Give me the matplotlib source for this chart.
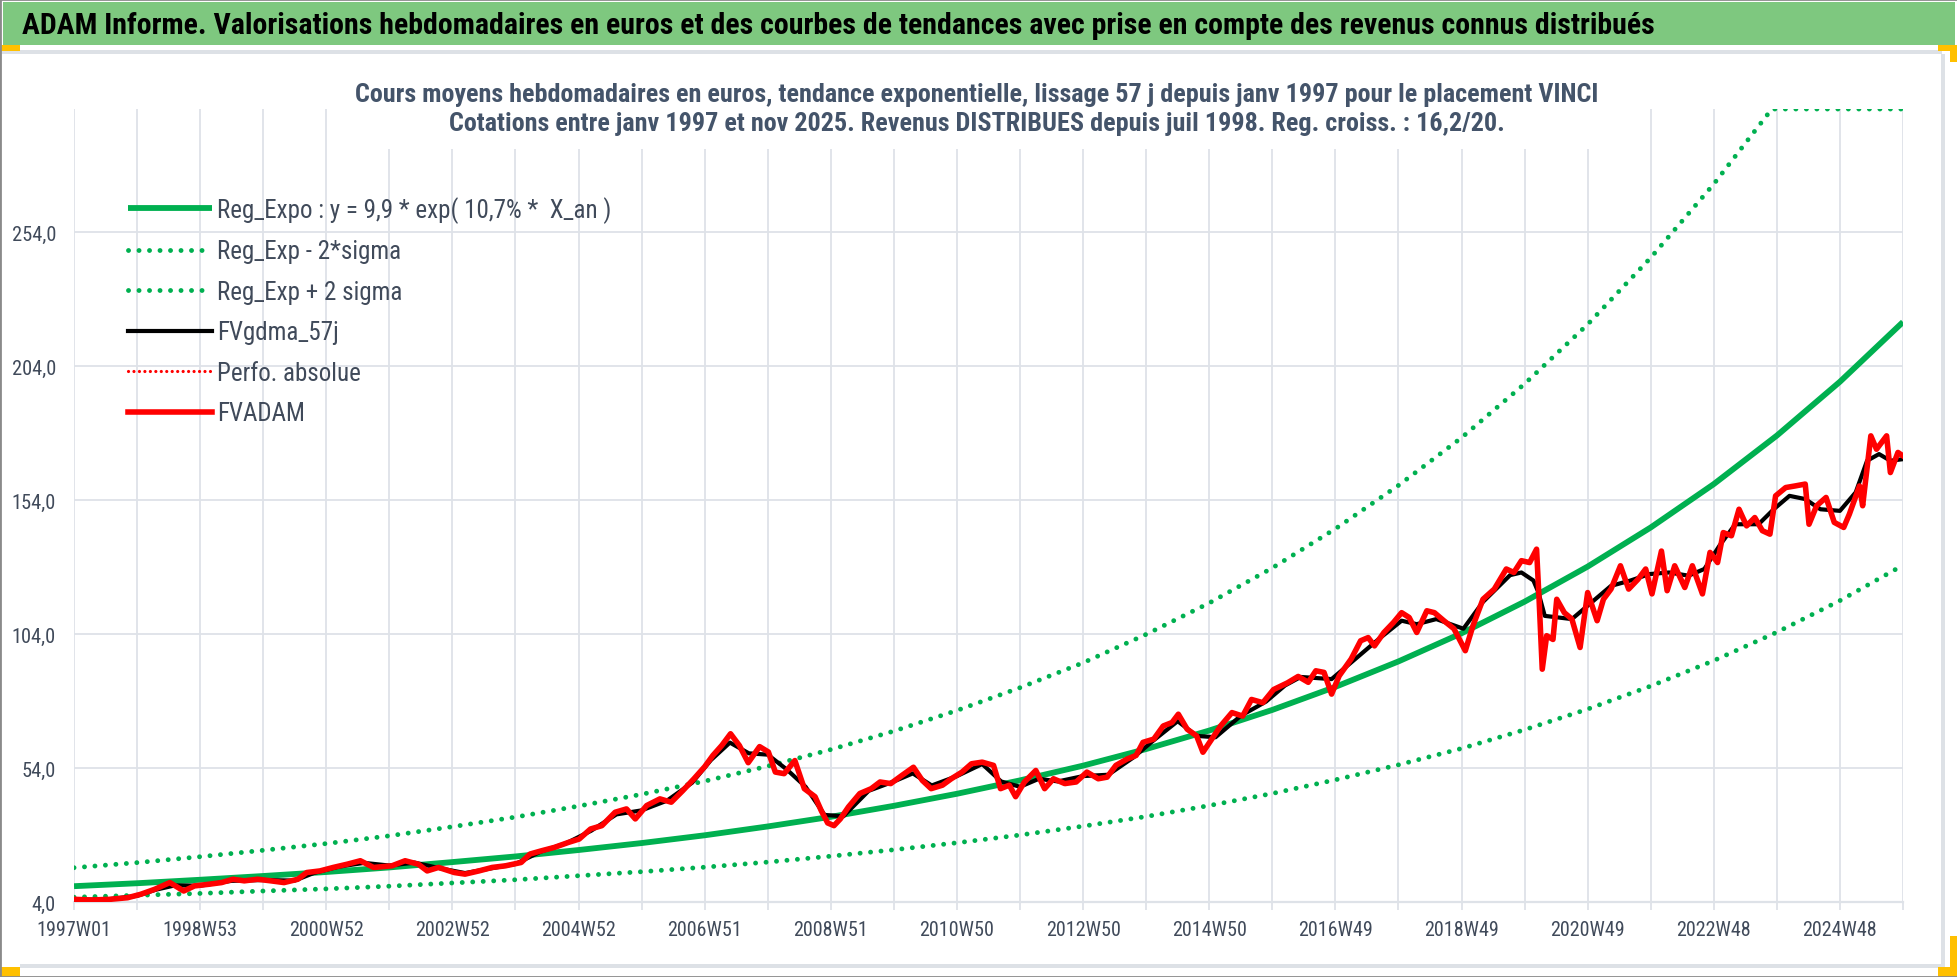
import numpy as np
import pandas as pd
import matplotlib
matplotlib.use("Agg")
import matplotlib.pyplot as plt
from matplotlib.patches import Rectangle

W, H = 1958, 978
FONT = ['Roboto Condensed', 'Liberation Sans', 'DejaVu Sans']
plt.rcParams['font.family'] = FONT

# ---------------- data ----------------
N_WEEKS = 1509
categories = [f"{d.isocalendar()[0]}W{d.isocalendar()[1]:02d}"
              for d in pd.date_range('1997-01-03', periods=N_WEEKS, freq='7D')]
tick_labels = ['1997W01', '1998W53', '2000W52', '2002W52', '2004W52', '2006W51',
               '2008W51', '2010W50', '2012W50', '2014W50', '2016W49', '2018W49',
               '2020W49', '2022W48', '2024W48']
y_ticks = [4, 54, 104, 154, 204, 254]

# positions in units of 52 weeks since 1997W01
trend_t = list(range(30))
trend_v = [9.9, 11.0, 12.3, 13.7, 15.2, 16.9, 18.9, 21.0, 23.4, 26.0, 28.9, 32.2, 35.8,
           39.9, 44.4, 49.4, 54.9, 61.1, 68.0, 75.7, 84.3, 93.8, 104.3, 116.1, 129.2,
           143.8, 160.0, 178.1, 198.2, 220.5]
lower_v = [5.8, 6.5, 7.2, 8.1, 8.9, 9.9, 11.1, 12.3, 13.8, 15.3, 17.0, 18.9, 21.1, 23.5,
           26.1, 29.0, 32.3, 35.9, 40.0, 44.5, 49.6, 55.2, 61.3, 68.3, 76.0, 84.6, 94.1,
           104.7, 116.5, 129.7]
upper_t = list(range(27)) + [26.92, 28, 29]
upper_v = [16.8, 18.7, 20.9, 23.3, 25.8, 28.7, 32.1, 35.7, 39.8, 44.2, 49.1, 54.7, 60.9,
           67.8, 75.5, 84.0, 93.3, 103.9, 115.6, 128.7, 143.3, 159.5, 177.3, 197.4, 219.6,
           244.5, 272.0, 300.0, 300.0, 300.0]

fv_t = [0.00, 0.28, 0.57, 0.85, 1.06, 1.28, 1.52, 1.74, 1.91, 2.13, 2.34, 2.52, 2.70, 2.91,
        3.12, 3.33, 3.55, 3.69, 3.90, 4.11, 4.33, 4.54, 4.75, 5.04, 5.25, 5.46, 5.60, 5.78,
        6.03, 6.20, 6.42, 6.63, 6.84, 7.09, 7.23, 7.41, 7.62, 7.84, 8.01, 8.19, 8.37, 8.58,
        8.76, 8.90, 9.08, 9.29, 9.47, 9.65, 9.83, 10.00, 10.13, 10.27, 10.41, 10.55, 10.69,
        10.87, 11.01, 11.12, 11.26, 11.43, 11.58, 11.75, 11.85, 11.95, 12.05, 12.15, 12.28,
        12.46, 12.64, 12.78, 12.95, 13.13, 13.31, 13.45, 13.59, 13.77, 13.91, 14.08, 14.23,
        14.40, 14.58, 14.69, 14.83, 14.93, 15.07, 15.25, 15.39, 15.53, 15.71, 15.89, 16.06,
        16.24, 16.38, 16.52, 16.70, 16.84, 16.95, 17.12, 17.27, 17.41, 17.51, 17.65, 17.80,
        17.90, 18.04, 18.18, 18.36, 18.53, 18.67, 18.85, 19.02, 19.24, 19.41, 19.57, 19.69,
        19.82, 19.94, 20.06, 20.25, 20.40, 20.52, 20.62, 20.77, 20.92, 21.05, 21.17, 21.29,
        21.45, 21.57, 21.72, 21.88, 22.06, 22.18, 22.34, 22.52, 22.71, 22.83, 22.95, 23.08,
        23.19, 23.23, 23.28, 23.35, 23.45, 23.51, 23.63, 23.75, 23.88, 24.00, 24.15, 24.25,
        24.37, 24.52, 24.65, 24.80, 24.92, 25.02, 25.17, 25.26, 25.38, 25.54, 25.66, 25.82,
        25.94, 26.06, 26.15, 26.28, 26.40, 26.52, 26.65, 26.77, 26.89, 26.98, 27.14, 27.29,
        27.45, 27.51, 27.63, 27.78, 27.91, 28.06, 28.15, 28.31, 28.36, 28.49, 28.58, 28.74,
        28.80, 28.92, 29.00]
fv_v = [5.0, 4.75, 5.0, 5.6, 6.9, 8.75, 11.25, 8.1, 10.0, 10.6, 11.25, 12.5, 11.9, 12.5,
        11.9, 11.25, 12.5, 15.0, 15.6, 16.9, 18.1, 19.4, 16.9, 17.5, 19.4, 18.1, 15.6, 16.9,
        15.0, 14.4, 15.6, 16.9, 17.5, 18.75, 21.9, 23.1, 24.4, 26.25, 27.5, 31.25, 32.5, 37.5,
        38.75, 35.0, 40.0, 42.5, 41.25, 45.5, 50.0, 54.5, 58.7, 62.4, 66.8, 62.4, 56.0,
        62.0, 60.0, 52.5, 51.9, 56.8, 46.3, 43.3, 38.0, 33.5, 32.5, 35.0, 39.5,
        44.5, 46.3, 48.8, 48.2, 51.3, 54.3, 49.4, 46.3, 47.6, 50.0, 52.5, 55.6,
        56.2, 55.0, 46.3, 47.6, 43.3, 48.8, 53.1, 46.3, 50.0, 48.2, 48.8, 52.5,
        50.0, 50.6, 55.0, 57.4, 58.7, 63.6, 64.8, 69.7, 71.0, 74.1, 68.5, 66.0,
        59.9, 64.8, 69.7, 74.7, 73.4, 79.6, 78.4, 83.3, 85.8, 88.2, 86.0, 90.3,
        89.7, 81.6, 88.4, 94.7, 101.5, 102.7, 99.6, 104.6, 108.3, 112.0, 110.2, 104.6,
        112.7, 112.0, 109.0, 106.0, 97.8, 107.0, 117.0, 120.8, 128.3, 127.0, 131.4, 130.7,
        135.7, 117.0, 90.9, 103.4, 102.0, 117.0, 112.0, 109.6, 99.0, 119.5, 109.0, 117.0,
        120.8, 129.5, 120.8, 124.5, 128.3, 119.0, 135.0, 120.2, 129.5, 121.4, 129.5, 119.0,
        134.5, 130.7, 141.9, 140.7, 150.6, 144.4, 147.5, 142.6, 141.3, 155.6, 158.7, 159.3,
        160.0, 145.0, 151.9, 155.0, 145.7, 143.8, 148.8, 159.3, 151.9, 178.0, 173.0, 178.0,
        164.3, 171.8, 170.5]

gdma_t = [0, 0.5, 1.0, 1.3, 1.6, 2.0, 2.5, 3.0, 3.5, 3.8, 4.2, 4.6, 5.0, 5.4, 5.8, 6.2,
          6.6, 7.0, 7.4, 7.8, 8.2, 8.6, 9.0, 9.4, 9.8, 10.1, 10.4, 10.7, 11.0, 11.3, 11.6,
          11.9, 12.2, 12.6, 13.0, 13.3, 13.6, 14.0, 14.4, 14.7, 15.0, 15.3, 15.6, 16.0, 16.4,
          16.8, 17.1, 17.5, 17.8, 18.1, 18.5, 18.9, 19.2, 19.45, 19.94, 20.25, 20.68, 21.05,
          21.29, 21.6, 22.03, 22.34, 22.77, 22.95, 23.14, 23.22, 23.32, 23.75, 24.0, 24.37,
          24.68, 24.98, 25.29, 25.6, 25.85, 26.09, 26.34, 26.71, 26.95, 27.2, 27.45, 27.69,
          28.0, 28.25, 28.43, 28.62, 28.8, 29.0]
gdma_v = [4.9, 4.9, 6.3, 8.6, 10.2, 10.1, 11.9, 12.2, 12.0, 14.8, 17.2, 18.6, 17.6, 18.7,
          16.6, 14.8, 16.5, 18.2, 22.8, 25.9, 30.6, 36.7, 38.2, 41.8, 48.5, 57.0, 63.5, 59.5,
          59.0, 53.5, 47.0, 36.5, 36.0, 45.5, 49.0, 52.0, 47.5, 51.0, 55.5, 49.0, 47.0, 50.0,
          49.0, 51.0, 51.5, 58.0, 64.0, 71.5, 66.0, 65.5, 73.5, 78.8, 84.8, 88.0, 87.2, 93.4,
          102.0, 109.0, 107.7, 109.6, 106.0, 116.0, 126.0, 127.0, 124.0, 119.5, 110.8, 109.6,
          114.6, 122.0, 124.0, 126.4, 127.0, 125.8, 128.3, 137.0, 145.0, 145.0, 150.6, 155.6,
          154.4, 150.6, 150.0, 156.9, 168.7, 171.2, 168.7, 169.3]

WEEKS_PER_UNIT = 52


def wk(t):
    return np.asarray(t, dtype=float) * WEEKS_PER_UNIT


# ---------------- figure ----------------
fig = plt.figure(figsize=(W / 100, H / 100), dpi=100)
fig.patch.set_facecolor('white')


def frect(x0, y0, x1, y1, **kw):
    fig.add_artist(Rectangle((x0 / W, 1 - y1 / H), (x1 - x0) / W, (y1 - y0) / H,
                             transform=fig.transFigure, **kw))


frect(3, 3, 1955, 46, facecolor='#7EC87F', edgecolor='none', zorder=1)
frect(0, 51, 1942, 55, facecolor='#DDE1E6', edgecolor='none', zorder=1)
frect(20, 965, 1942, 969, facecolor='#DDE1E6', edgecolor='none', zorder=1)
frect(1941, 55, 1945, 969, facecolor='#DDE1E6', edgecolor='none', zorder=1)
for (a, b, c, d) in [(0, 46, 20, 52), (1938, 46, 1958, 52), (1950, 46, 1958, 63),
                     (0, 968, 20, 978), (1950, 937, 1958, 978), (1938, 968, 1958, 978)]:
    frect(a, b, c, d, facecolor='#FFC000', edgecolor='none', zorder=2)
fig.add_artist(Rectangle((0, 0), 1, 1, transform=fig.transFigure, fill=False,
                         edgecolor='#8A8A8A', lw=2, zorder=3))

fig.text(22 / W, 1 - 26 / H,
         "ADAM Informe. Valorisations hebdomadaires en euros et des courbes de tendances "
         "avec prise en compte des revenus connus distribués",
         fontsize=21.5, fontweight='bold', color='black', ha='left', va='center', zorder=4)

ax = fig.add_axes([74 / W, 75 / H, 1829 / W, 793 / H])
ax.set_zorder(0)

GRID = '#DEE2E8'
TXT = '#404A5A'
GREEN = '#00B050'

l_reg, = ax.plot(wk(trend_t), trend_v, color=GREEN, lw=4.2, solid_capstyle='butt', zorder=3,
                 label="Reg_Expo : y = 9,9 * exp( 10,7% *  X_an )")
l_low, = ax.plot(wk(trend_t), lower_v, color=GREEN, lw=3.5, ls=(0, (0.01, 2.15)),
                 dash_capstyle='round', zorder=3, label="Reg_Exp - 2*sigma")
l_up, = ax.plot(wk(upper_t), upper_v, color=GREEN, lw=3.5, ls=(0, (0.01, 2.15)),
                dash_capstyle='round', zorder=3, label="Reg_Exp + 2 sigma")
l_gd, = ax.plot(wk(gdma_t), gdma_v, color='black', lw=3.0, zorder=4, label="FVgdma_57j")
l_pa, = ax.plot(wk(fv_t), fv_v, color='#FF0000', lw=2.3, ls=(0, (0.01, 1.7)),
                dash_capstyle='round', zorder=4, label="Perfo. absolue")
l_fv, = ax.plot(wk(fv_t), fv_v, color='#FF0000', lw=4.0, solid_joinstyle='round',
                zorder=5, label="FVADAM")

ax.set_xlim(0, N_WEEKS - 1)
ax.set_ylim(4, 300)
tick_pos = [categories.index(lbl) for lbl in tick_labels]
ax.set_xticks(tick_pos)
ax.set_xticklabels(tick_labels)
ax.set_xticks(list(range(0, N_WEEKS, 52)), minor=True)
ax.set_yticks(y_ticks)
ax.set_yticklabels([f"{v:.1f}".replace('.', ',') for v in y_ticks])

ax.grid(axis='x', which='both', color=GRID, lw=1.3, zorder=0)
ax.grid(axis='y', which='major', color=GRID, lw=1.3, zorder=0)
ax.set_axisbelow(True)
for s in ['top', 'right', 'left']:
    ax.spines[s].set_visible(False)
ax.spines['bottom'].set_color(GRID)
ax.spines['bottom'].set_linewidth(1.6)

ax.tick_params(axis='y', length=0, pad=13, labelsize=14.7, labelcolor=TXT)
ax.tick_params(axis='x', which='both', direction='out', length=5.8, width=1.3, color=GRID)
ax.tick_params(axis='x', which='major', pad=7, labelsize=14.5, labelcolor=TXT)

# title box (white fill overlaying the plot area)
frect(345, 72, 1615, 150, facecolor='white', edgecolor='none', zorder=5)
fig.text(977 / W, 1 - 95 / H,
         "Cours moyens hebdomadaires en euros, tendance exponentielle, lissage 57 j depuis "
         "janv 1997 pour le placement VINCI",
         fontsize=18.8, fontweight='bold', color='#44546A', ha='center', va='center', zorder=6)
fig.text(977 / W, 1 - 124 / H,
         "Cotations entre janv 1997 et nov 2025. Revenus DISTRIBUES depuis juil 1998. "
         "Reg. croiss. : 16,2/20.",
         fontsize=18.8, fontweight='bold', color='#44546A', ha='center', va='center', zorder=6)

leg = ax.legend(handles=[l_reg, l_low, l_up, l_gd, l_pa, l_fv],
                loc='upper left', bbox_to_anchor=(128 / W, 1 - 197 / H),
                bbox_transform=fig.transFigure, frameon=False, fontsize=18,
                handlelength=3.36, handletextpad=0.2, labelspacing=0.66,
                borderpad=0, borderaxespad=0, labelcolor=TXT)

fig.savefig('out.png', dpi=100, facecolor='white')
